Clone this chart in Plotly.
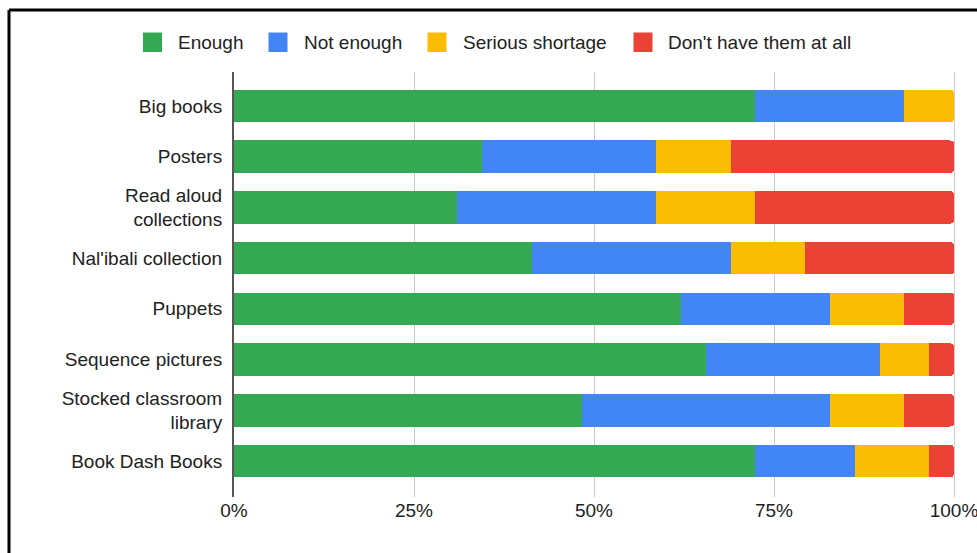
import plotly.graph_objects as go

# Survey responses per resource (29 teachers each)
categories = [
    "Big books",
    "Posters",
    "Read aloud<br>collections",
    "Nal'ibali collection",
    "Puppets",
    "Sequence pictures",
    "Stocked classroom<br>library",
    "Book Dash Books",
]
enough = [21, 10, 9, 12, 18, 19, 14, 21]
not_enough = [6, 7, 8, 8, 6, 7, 10, 4]
serious_shortage = [2, 3, 4, 3, 3, 2, 3, 3]
dont_have = [0, 9, 8, 6, 2, 1, 2, 1]

series_names = ["Enough", "Not enough", "Serious shortage", "Don't have them at all"]
series_values = [enough, not_enough, serious_shortage, dont_have]
series_colors = ["#34A853", "#4285F4", "#FBBC04", "#EA4335"]

tick_vals = [0, 25, 50, 75, 100]
tick_text = ["0%", "25%", "50%", "75%", "100%"]

W, H = 977, 553
PL, PR, PT, PB = 234, 956, 72, 497  # plot area in pixels
X100 = 954  # pixel where 100% falls
x_max = 100 * (PR - PL) / (X100 - PL)


def px_x(px):
    return (px - PL) / (PR - PL)


def px_y(py):
    return (PB - py) / (PB - PT)


FONT = "Liberation Sans, Arial, sans-serif"
TEXT = "#222222"

fig = go.Figure()
for name, vals, col in zip(series_names, series_values, series_colors):
    fig.add_trace(go.Bar(
        y=categories, x=vals, name=name, orientation="h",
        marker=dict(color=col, line=dict(width=0)),
        showlegend=False,
    ))

shapes = []
annotations = []
# Legend row across the top
legend_items = [(143, 176), (268.5, 301.5), (427.5, 460.5), (633.5, 666)]
for (sx, tx), name, col in zip(legend_items, series_names, series_colors):
    shapes.append(dict(
        type="rect", xref="paper", yref="paper",
        x0=px_x(sx), x1=px_x(sx + 19), y0=px_y(52), y1=px_y(32.5),
        fillcolor=col, line=dict(width=0),
    ))
    annotations.append(dict(
        xref="paper", yref="paper", x=px_x(tx), y=px_y(42),
        xanchor="left", yanchor="middle", showarrow=False,
        text=name, font=dict(family=FONT, size=19, color=TEXT),
    ))

# Frame lines on the top and left edges
shapes.append(dict(type="line", xref="paper", yref="paper",
                   x0=px_x(9), x1=px_x(980), y0=px_y(10), y1=px_y(10),
                   line=dict(color="black", width=3)))
shapes.append(dict(type="line", xref="paper", yref="paper",
                   x0=px_x(9), x1=px_x(9), y0=px_y(10), y1=px_y(560),
                   line=dict(color="black", width=3)))

fig.update_layout(
    width=W, height=H,
    margin=dict(l=PL, r=W - PR, t=PT, b=H - PB, pad=0, autoexpand=False),
    barmode="stack", barnorm="percent", bargap=0.36,
    barcornerradius=4,
    paper_bgcolor="white", plot_bgcolor="white",
    font=dict(family=FONT, size=19, color=TEXT),
    showlegend=False,
    shapes=shapes, annotations=annotations,
    xaxis=dict(
        range=[0, x_max], tickvals=tick_vals, ticktext=tick_text,
        showgrid=True, gridcolor="#cccccc", gridwidth=1,
        zeroline=False, showline=False, ticks="",
        ticklabeloverflow="allow", automargin=False,
        tickfont=dict(family=FONT, size=19, color=TEXT),
        fixedrange=True,
    ),
    yaxis=dict(
        categoryorder="array", categoryarray=categories,
        range=[7.71, -0.67],
        showgrid=False, zeroline=False,
        showline=True, linecolor="#555555", linewidth=2,
        ticks="", ticklabelstandoff=6, automargin=False,
        tickfont=dict(family=FONT, size=19, color=TEXT),
        fixedrange=True,
    ),
)

fig.write_html("out.html")
